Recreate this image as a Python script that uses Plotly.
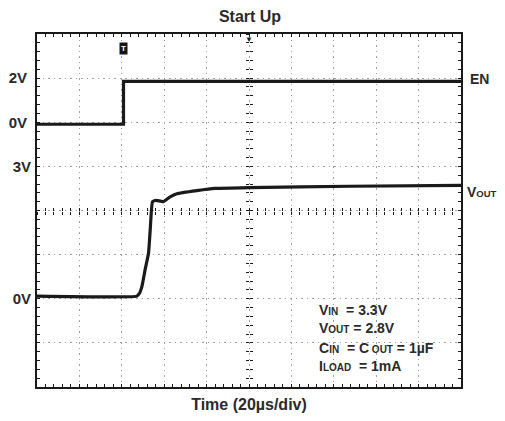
import plotly.graph_objects as go

# ---- data ----
en_time = [0, 40.8, 40.8, 200]          # µs
en_volt = [-0.09, -0.09, 1.85, 1.85]    # V

vout_time = [0, 47.1, 48.3, 49.5, 51.0, 52.6, 53.4, 54.5, 56.2, 59.5,
             62.8, 66.0, 75.4, 84.0, 100.0, 147.7, 200.0]
vout_volt = [0.06, 0.06, 0.12, 0.28, 0.66, 1.03, 1.56, 2.20, 2.23, 2.20,
             2.31, 2.38, 2.45, 2.50, 2.52, 2.55, 2.57]

en_labels = {0: "0V", 2: "2V"}
vout_ticks = [0, 3]
vout_ticktext = ["0V", "3V"]

cond_lines = [
    "V<span style='font-size:10px'>IN</span>\u00a0\u00a0= 3.3V",
    "V<span style='font-size:10px'>OUT</span>\u00a0= 2.8V",
    "C<span style='font-size:10px'>IN</span>\u00a0\u00a0= C<span style='font-size:10px'>\u00a0OUT</span>\u00a0= 1µF",
    "I<span style='font-size:10px'>LOAD</span>\u00a0\u00a0= 1mA",
]

FONT = "Liberation Sans, Arial, sans-serif"
INK = "#1a1a1a"
TXT = "#2a2a2a"
GRID = "#a0a0a0"

en_grid = list(range(-12, 5, 2))
en_ticktext = [f"<b>{en_labels[v]}</b>" if v in en_labels else "" for v in en_grid]

fig = go.Figure()
fig.add_trace(go.Scatter(x=en_time, y=en_volt, mode="lines", xaxis="x", yaxis="y",
                         line=dict(color=INK, width=3.2), showlegend=False, hoverinfo="skip"))
fig.add_trace(go.Scatter(x=vout_time, y=vout_volt, mode="lines", xaxis="x", yaxis="y2",
                         line=dict(color=INK, width=3.2, shape="spline", smoothing=0.4),
                         showlegend=False, hoverinfo="skip"))
# empty traces so the centre graticule axes are drawn
for xa, ya in [("x2", "y"), ("x3", "y"), ("x", "y3"), ("x", "y4")]:
    fig.add_trace(go.Scatter(x=[None], y=[None], xaxis=xa, yaxis=ya, mode="lines",
                             showlegend=False, hoverinfo="skip"))

hidden = dict(showticklabels=False, zeroline=False, showline=False, showgrid=False,
              automargin=False, fixedrange=True)

# the page body adds an 8px margin, so the figure is sized/positioned to compensate
fig.update_layout(
    width=497, height=405,
    margin=dict(l=29, r=44, t=26, b=26, autoexpand=False),
    paper_bgcolor="white", plot_bgcolor="white",
    font=dict(family=FONT, color=TXT, size=13),
    title=dict(text="<b>Start Up</b>", x=0.487, xanchor="center", y=0.980, yanchor="middle",
               font=dict(size=16, color=TXT)),
    xaxis=dict(range=[0, 200], dtick=20, tick0=0, showgrid=True, gridcolor=GRID,
               griddash="1.5px,4px", gridwidth=1, zeroline=False,
               showline=True, linecolor=INK, linewidth=2, mirror="ticks",
               ticks="inside", ticklen=3, tickcolor=INK, showticklabels=False,
               minor=dict(dtick=4, tick0=0, ticks="inside", ticklen=3, tickcolor=INK, showgrid=False),
               title=dict(text="<b>Time (20µs/div)</b>", font=dict(size=16, color=TXT), standoff=12),
               automargin=False, fixedrange=True),
    yaxis=dict(range=[-12, 4], tickvals=en_grid, ticktext=en_ticktext, showgrid=True,
               gridcolor=GRID, griddash="1.5px,4px", gridwidth=1, zeroline=False,
               showline=True, linecolor=INK, linewidth=2, mirror="ticks",
               ticks="inside", ticklen=3, tickcolor=INK, ticklabelstandoff=5,
               tickfont=dict(size=15, color=TXT),
               minor=dict(dtick=0.4, tick0=0, ticks="inside", ticklen=3, tickcolor=INK, showgrid=False),
               automargin=False, fixedrange=True),
    yaxis2=dict(range=[-2, 6], overlaying="y", anchor="x", side="left",
                tickvals=vout_ticks, ticktext=[f"<b>{t}</b>" for t in vout_ticktext],
                ticks="inside", ticklen=3, tickcolor=INK, ticklabelstandoff=5,
                showgrid=False, zeroline=False, showline=False,
                tickfont=dict(size=15, color=TXT), automargin=False, fixedrange=True),
    # centre cross graticule
    xaxis2=dict(range=[0, 200], overlaying="x", anchor="free", position=0.5,
                dtick=4, tick0=0, ticks="inside", ticklen=3, tickcolor=INK, **hidden),
    xaxis3=dict(range=[0, 200], overlaying="x", anchor="free", position=0.5,
                dtick=4, tick0=0, ticks="outside", ticklen=3, tickcolor=INK, **hidden),
    yaxis3=dict(range=[-12, 4], overlaying="y", anchor="free", position=0.5,
                dtick=0.4, tick0=0, ticks="inside", ticklen=3, tickcolor=INK, **hidden),
    yaxis4=dict(range=[-12, 4], overlaying="y", anchor="free", position=0.5,
                dtick=0.4, tick0=0, ticks="outside", ticklen=3, tickcolor=INK, **hidden),
)

# channel labels on the right
fig.add_annotation(text="<b>EN</b>", xref="paper", x=1, xanchor="left", xshift=7,
                   yref="y", y=1.95, yanchor="middle", showarrow=False,
                   font=dict(size=14, color=TXT))
fig.add_annotation(text="<b>V<span style='font-size:9.5px'>OUT</span></b>", xref="paper", x=1,
                   xanchor="left", xshift=4, yref="y2", y=2.42, yanchor="middle",
                   showarrow=False, font=dict(size=14, color=TXT))

# trigger markers
fig.add_annotation(text="<b>T</b>", xref="x", x=en_time[1], yref="paper", y=0.9595,
                   yanchor="middle", showarrow=False, bgcolor="#151515", borderpad=1,
                   font=dict(size=8, color="white"))
fig.add_annotation(text="▼", xref="paper", x=0.5, yref="paper", y=1, yanchor="top",
                   yshift=1, showarrow=False, font=dict(size=8, color=INK))

# test conditions
cond_y = [310, 328.5, 348, 366.5]
for line, ypx in zip(cond_lines, cond_y):
    fig.add_annotation(text=f"<b>{line}</b>", xref="paper", x=(316.5 - 37) / 424,
                       xanchor="left", yref="paper", y=(387.3 - ypx) / 353.3,
                       yanchor="middle", showarrow=False, font=dict(size=14, color=TXT))

fig.write_html("out.html")
